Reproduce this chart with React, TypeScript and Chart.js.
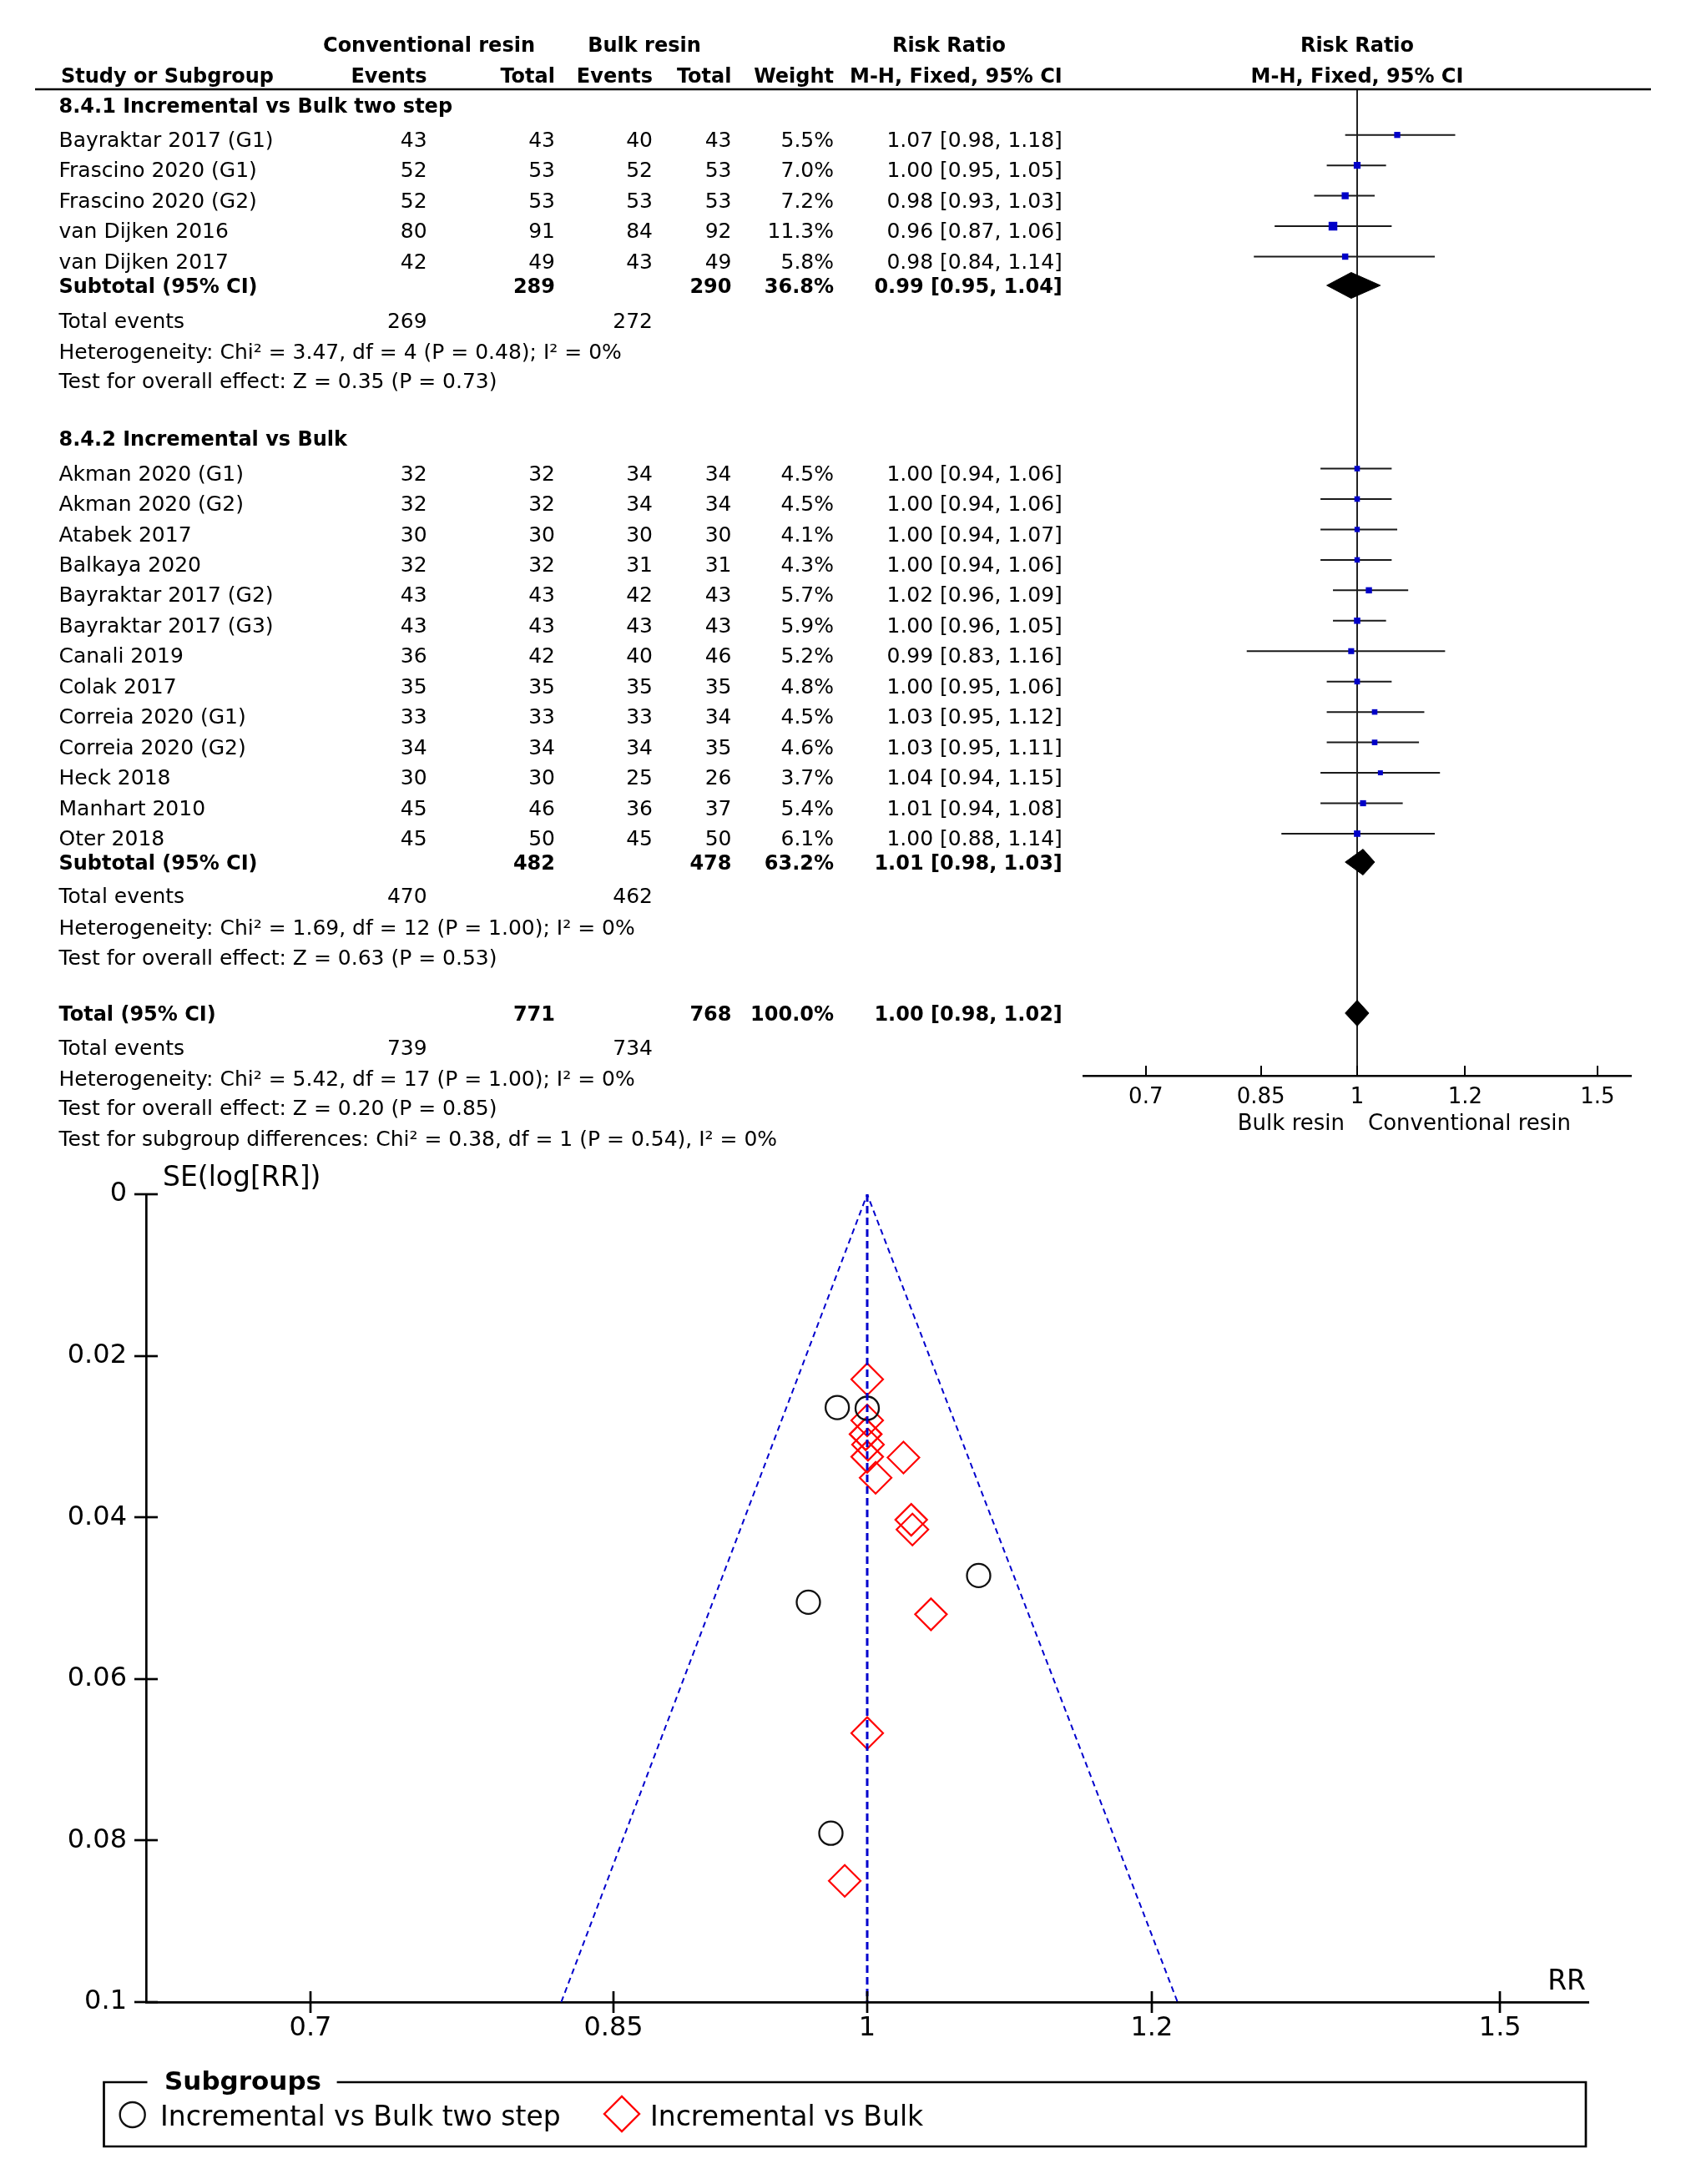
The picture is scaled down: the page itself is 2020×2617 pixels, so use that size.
import React, { useEffect, useRef } from 'react';
import { Chart, registerables } from 'chart.js';

Chart.register(...registerables);

// ---------------- Forest plot data ----------------
const group1Names = ['Bayraktar 2017 (G1)', 'Frascino 2020 (G1)', 'Frascino 2020 (G2)', 'van Dijken 2016', 'van Dijken 2017'];
const group1ConvEvents = [43, 52, 52, 80, 42];
const group1ConvTotal = [43, 53, 53, 91, 49];
const group1BulkEvents = [40, 52, 53, 84, 43];
const group1BulkTotal = [43, 53, 53, 92, 49];
const group1Weight = [5.5, 7.0, 7.2, 11.3, 5.8];
const group1RR = [1.07, 1.0, 0.98, 0.96, 0.98];
const group1Lo = [0.98, 0.95, 0.93, 0.87, 0.84];
const group1Hi = [1.18, 1.05, 1.03, 1.06, 1.14];

const group2Names = ['Akman 2020 (G1)', 'Akman 2020 (G2)', 'Atabek 2017', 'Balkaya 2020', 'Bayraktar 2017 (G2)', 'Bayraktar 2017 (G3)', 'Canali 2019', 'Colak 2017', 'Correia 2020 (G1)', 'Correia 2020 (G2)', 'Heck 2018', 'Manhart 2010', 'Oter 2018'];
const group2ConvEvents = [32, 32, 30, 32, 43, 43, 36, 35, 33, 34, 30, 45, 45];
const group2ConvTotal = [32, 32, 30, 32, 43, 43, 42, 35, 33, 34, 30, 46, 50];
const group2BulkEvents = [34, 34, 30, 31, 42, 43, 40, 35, 33, 34, 25, 36, 45];
const group2BulkTotal = [34, 34, 30, 31, 43, 43, 46, 35, 34, 35, 26, 37, 50];
const group2Weight = [4.5, 4.5, 4.1, 4.3, 5.7, 5.9, 5.2, 4.8, 4.5, 4.6, 3.7, 5.4, 6.1];
const group2RR = [1.0, 1.0, 1.0, 1.0, 1.02, 1.0, 0.99, 1.0, 1.03, 1.03, 1.04, 1.01, 1.0];
const group2Lo = [0.94, 0.94, 0.94, 0.94, 0.96, 0.96, 0.83, 0.95, 0.95, 0.95, 0.94, 0.94, 0.88];
const group2Hi = [1.06, 1.06, 1.07, 1.06, 1.09, 1.05, 1.16, 1.06, 1.12, 1.11, 1.15, 1.08, 1.14];

// subtotal / total rows: [convTotal, bulkTotal, weight, rr, lo, hi, convEvents, bulkEvents]
const subtotal1 = [289, 290, 36.8, 0.99, 0.95, 1.04, 269, 272];
const subtotal2 = [482, 478, 63.2, 1.01, 0.98, 1.03, 470, 462];
const overall = [771, 768, 100.0, 1.0, 0.98, 1.02, 739, 734];
const group1Stats = ['Heterogeneity: Chi² = 3.47, df = 4 (P = 0.48); I² = 0%', 'Test for overall effect: Z = 0.35 (P = 0.73)'];
const group2Stats = ['Heterogeneity: Chi² = 1.69, df = 12 (P = 1.00); I² = 0%', 'Test for overall effect: Z = 0.63 (P = 0.53)'];
const overallStats = ['Heterogeneity: Chi² = 5.42, df = 17 (P = 1.00); I² = 0%', 'Test for overall effect: Z = 0.20 (P = 0.85)', 'Test for subgroup differences: Chi² = 0.38, df = 1 (P = 0.54), I² = 0%'];
const rrTicks = [0.7, 0.85, 1, 1.2, 1.5];

// ---------------- Funnel plot data ----------------
const funnel1RR = [1.074, 1.0, 0.981, 0.963, 0.977];
const funnel1SE = [0.0472, 0.0265, 0.0264, 0.0505, 0.0791];
const funnel2RR = [0.999, 0.999, 1.0, 1.0005, 1.0235, 1.0, 0.9857, 1.0, 1.0294, 1.0286, 1.0417, 1.0054, 1.0];
const funnel2SE = [0.0297, 0.0297, 0.0325, 0.031, 0.0326, 0.0229, 0.085, 0.028, 0.0415, 0.0403, 0.052, 0.0351, 0.0667];
const pooledRR = 1.0;
const funnelLimitLo = 0.822;
const funnelLimitHi = 1.22;
const seMax = 0.1;
const seTicks = [0, 0.02, 0.04, 0.06, 0.08, 0.1];

// ---------------- Layout ----------------
const W = 2020;
const FOREST_H = 1385;
const F_LEFT = 1298, F_RIGHT = 1954, F_TOP = 107, F_BOTTOM = 1289;
const SLOT_PX = 36.45;
const Y_MAX = (F_BOTTOM - F_TOP) / SLOT_PX;
const SLOT = {
  head1: -1.473, head2: -0.466,
  g1Title: 0.52, g1First: 1.5, g1Sub: 6.447, g1Events: 7.6, g1Het: 8.6, g1Test: 9.575,
  g2Title: 11.468, g2First: 12.47, g2Sub: 25.405, g2Events: 26.51, g2Het: 27.54, g2Test: 28.52,
  total: 30.37, totEvents: 31.5, totHet: 32.5, totTest: 33.48, subgroup: 34.49,
};
const COL = { name: 70.5, ce: 511.6, ct: 665, be: 782, bt: 876.5, w: 999, ci: 1272.8 };
const FONT = '"DejaVu Sans"';
const LOGMIN = 0.63, LOGMAX = 1.5873;

const FUNNEL_TOP = 1385;
const FUNNEL_H = 2617 - FUNNEL_TOP;
const P_LEFT = 175, P_RIGHT = 1903, P_TOP = 1431, P_BOTTOM = 2399;

const BLUE_SQ = '#0000c8';
const FUNNEL_BLUE = '#0000cd';

const ciText = (rr: number, lo: number, hi: number) => `${rr.toFixed(2)} [${lo.toFixed(2)}, ${hi.toFixed(2)}]`;

const fixLogTicks = (s: any) => {
  s.ticks = rrTicks.map((v) => ({ value: v }));
  s.min = LOGMIN;
  s.max = LOGMAX;
};

function forestConfig(): any {
  const datasets: any[] = [];
  // line of no effect
  datasets.push({
    type: 'line', data: [{ x: 1, y: 0 }, { x: 1, y: Y_MAX }],
    borderColor: '#222', borderWidth: 2, pointRadius: 0, fill: false, order: 3,
  });
  const studyRows: any[] = [];
  group1RR.forEach((rr, i) => studyRows.push({ rr, lo: group1Lo[i], hi: group1Hi[i], w: group1Weight[i], slot: SLOT.g1First + i }));
  group2RR.forEach((rr, i) => studyRows.push({ rr, lo: group2Lo[i], hi: group2Hi[i], w: group2Weight[i], slot: SLOT.g2First + i }));
  studyRows.forEach((r) => {
    datasets.push({
      type: 'line', data: [{ x: r.lo, y: r.slot }, { x: r.hi, y: r.slot }],
      borderColor: '#1a1a1a', borderWidth: 2, pointRadius: 0, fill: false, order: 2,
    });
  });
  datasets.push({
    type: 'scatter', data: studyRows.map((r) => ({ x: r.rr, y: r.slot })),
    pointStyle: 'rect', pointRadius: studyRows.map((r) => 2.2 * Math.sqrt(r.w)),
    backgroundColor: BLUE_SQ, borderColor: BLUE_SQ, borderWidth: 0, order: 1,
  });
  const DH = 15.5 / SLOT_PX;
  const diamonds = [
    { s: subtotal1, slot: SLOT.g1Sub },
    { s: subtotal2, slot: SLOT.g2Sub },
    { s: overall, slot: SLOT.total },
  ];
  diamonds.forEach((d) => {
    const est = d.s[3], lo = d.s[4], hi = d.s[5];
    datasets.push({
      type: 'line',
      data: [{ x: lo, y: d.slot }, { x: est, y: d.slot - DH }, { x: hi, y: d.slot }, { x: est, y: d.slot + DH }, { x: lo, y: d.slot }],
      borderColor: '#000', backgroundColor: '#000', borderWidth: 1, pointRadius: 0, fill: 'shape', tension: 0, order: 0,
    });
  });

  const textPlugin = {
    id: 'forestText',
    afterDraw(chart: any) {
      const ctx = chart.ctx;
      const ys = chart.scales.y, xs = chart.scales.x;
      const Y = (s: number) => ys.getPixelForValue(s);
      const xOne = xs.getPixelForValue(1);
      const axisY = chart.chartArea.bottom;
      ctx.save();
      ctx.fillStyle = '#000';
      ctx.textBaseline = 'alphabetic';
      const txt = (t: string, x: number, cy: number, align: string, bold = false) => {
        ctx.font = bold ? `bold 24px ${FONT}` : `25px ${FONT}`;
        ctx.textAlign = align;
        ctx.fillText(t, x, cy + (bold ? 8.8 : 9.1));
      };
      // header rule
      ctx.strokeStyle = '#000';
      ctx.lineWidth = 2.5;
      ctx.beginPath();
      ctx.moveTo(42, Y(0));
      ctx.lineTo(1978, Y(0));
      ctx.stroke();
      // ticks upward
      ctx.lineWidth = 2;
      rrTicks.forEach((v) => {
        const x = Math.round(xs.getPixelForValue(v));
        ctx.beginPath();
        ctx.moveTo(x, axisY - 12);
        ctx.lineTo(x, axisY);
        ctx.stroke();
      });
      // headers
      txt('Conventional resin', 514, Y(SLOT.head1), 'center', true);
      txt('Bulk resin', 772, Y(SLOT.head1), 'center', true);
      txt('Risk Ratio', 1137, Y(SLOT.head1), 'center', true);
      txt('Risk Ratio', xOne, Y(SLOT.head1), 'center', true);
      txt('Study or Subgroup', 73, Y(SLOT.head2), 'left', true);
      txt('Events', COL.ce, Y(SLOT.head2), 'right', true);
      txt('Total', COL.ct, Y(SLOT.head2), 'right', true);
      txt('Events', COL.be, Y(SLOT.head2), 'right', true);
      txt('Total', COL.bt, Y(SLOT.head2), 'right', true);
      txt('Weight', COL.w, Y(SLOT.head2), 'right', true);
      txt('M-H, Fixed, 95% CI', COL.ci, Y(SLOT.head2), 'right', true);
      txt('M-H, Fixed, 95% CI', xOne, Y(SLOT.head2), 'center', true);

      const studyBlock = (names: string[], ce: number[], ct: number[], be: number[], bt: number[], w: number[], rr: number[], lo: number[], hi: number[], first: number) => {
        names.forEach((n, i) => {
          const cy = Y(first + i) + 5;
          txt(n, COL.name, cy, 'left');
          txt(String(ce[i]), COL.ce, cy, 'right');
          txt(String(ct[i]), COL.ct, cy, 'right');
          txt(String(be[i]), COL.be, cy, 'right');
          txt(String(bt[i]), COL.bt, cy, 'right');
          txt(`${w[i].toFixed(1)}%`, COL.w, cy, 'right');
          txt(ciText(rr[i], lo[i], hi[i]), COL.ci, cy, 'right');
        });
      };
      const summary = (label: string, s: number[], slot: number) => {
        const cy = Y(slot);
        txt(label, COL.name, cy, 'left', true);
        txt(String(s[0]), COL.ct, cy, 'right', true);
        txt(String(s[1]), COL.bt, cy, 'right', true);
        txt(`${s[2].toFixed(1)}%`, COL.w, cy, 'right', true);
        txt(ciText(s[3], s[4], s[5]), COL.ci, cy, 'right', true);
      };
      const events = (s: number[], slot: number) => {
        const cy = Y(slot);
        txt('Total events', COL.name, cy, 'left');
        txt(String(s[6]), COL.ce, cy, 'right');
        txt(String(s[7]), COL.be, cy, 'right');
      };

      txt('8.4.1 Incremental vs Bulk two step', COL.name, Y(SLOT.g1Title), 'left', true);
      studyBlock(group1Names, group1ConvEvents, group1ConvTotal, group1BulkEvents, group1BulkTotal, group1Weight, group1RR, group1Lo, group1Hi, SLOT.g1First);
      summary('Subtotal (95% CI)', subtotal1, SLOT.g1Sub);
      events(subtotal1, SLOT.g1Events);
      txt(group1Stats[0], COL.name, Y(SLOT.g1Het), 'left');
      txt(group1Stats[1], COL.name, Y(SLOT.g1Test), 'left');

      txt('8.4.2 Incremental vs Bulk', COL.name, Y(SLOT.g2Title), 'left', true);
      studyBlock(group2Names, group2ConvEvents, group2ConvTotal, group2BulkEvents, group2BulkTotal, group2Weight, group2RR, group2Lo, group2Hi, SLOT.g2First);
      summary('Subtotal (95% CI)', subtotal2, SLOT.g2Sub);
      events(subtotal2, SLOT.g2Events);
      txt(group2Stats[0], COL.name, Y(SLOT.g2Het), 'left');
      txt(group2Stats[1], COL.name, Y(SLOT.g2Test), 'left');

      summary('Total (95% CI)', overall, SLOT.total);
      events(overall, SLOT.totEvents);
      txt(overallStats[0], COL.name, Y(SLOT.totHet), 'left');
      txt(overallStats[1], COL.name, Y(SLOT.totTest), 'left');
      txt(overallStats[2], COL.name, Y(SLOT.subgroup), 'left');

      // favours labels
      ctx.font = `26px ${FONT}`;
      ctx.textAlign = 'right';
      ctx.fillText('Bulk resin', xOne - 15, axisY + 64.5);
      ctx.textAlign = 'left';
      ctx.fillText('Conventional resin', xOne + 13, axisY + 64.5);
      ctx.restore();
    },
  };

  return {
    type: 'scatter',
    data: { datasets },
    options: {
      responsive: false,
      animation: false,
      devicePixelRatio: 1,
      events: [],
      layout: { padding: { left: F_LEFT, right: W - F_RIGHT, top: F_TOP, bottom: FOREST_H - F_BOTTOM - 60 } },
      plugins: { legend: { display: false }, tooltip: { enabled: false } },
      scales: {
        x: {
          type: 'logarithmic', min: LOGMIN, max: LOGMAX, bounds: 'data', position: 'bottom',
          afterBuildTicks: fixLogTicks,
          afterFit: (s: any) => { s.height = 60; },
          ticks: { callback: (v: any) => String(v), font: { family: 'DejaVu Sans', size: 26 }, color: '#000', padding: 11, autoSkip: false, maxRotation: 0 },
          grid: { display: false, drawTicks: false },
          border: { display: true, color: '#000', width: 2.5 },
        },
        y: { type: 'linear', reverse: true, min: 0, max: Y_MAX, display: false },
      },
    },
    plugins: [textPlugin],
  };
}

function funnelConfig(): any {
  const datasets: any[] = [
    {
      type: 'line', data: [{ x: pooledRR, y: 0 }, { x: pooledRR, y: seMax }],
      borderColor: FUNNEL_BLUE, borderWidth: 3, borderDash: [9, 5], pointRadius: 0, fill: false, order: 0,
    },
    {
      type: 'line', data: [{ x: funnelLimitLo, y: seMax }, { x: pooledRR, y: 0 }, { x: funnelLimitHi, y: seMax }],
      borderColor: FUNNEL_BLUE, borderWidth: 2, borderDash: [7, 5], pointRadius: 0, fill: false, order: 0,
    },
    {
      type: 'scatter', data: funnel1RR.map((x, i) => ({ x, y: funnel1SE[i] })),
      pointStyle: 'circle', pointRadius: 14, borderColor: '#111', borderWidth: 2.3, backgroundColor: 'rgba(0,0,0,0)', order: 1,
    },
    {
      type: 'scatter', data: funnel2RR.map((x, i) => ({ x, y: funnel2SE[i] })),
      pointStyle: 'rectRot', pointRadius: 19, borderColor: '#ff0000', borderWidth: 2.2, backgroundColor: 'rgba(0,0,0,0)', order: 1,
    },
  ];

  const decor = {
    id: 'funnelDecor',
    afterDraw(chart: any) {
      const ctx = chart.ctx;
      const ca = chart.chartArea;
      const xs = chart.scales.x, ys = chart.scales.y;
      ctx.save();
      ctx.strokeStyle = '#000';
      ctx.fillStyle = '#000';
      ctx.lineWidth = 2.7;
      seTicks.forEach((v) => {
        const y = Math.round(ys.getPixelForValue(v));
        ctx.beginPath();
        ctx.moveTo(ca.left - 14, y);
        ctx.lineTo(ca.left + 14, y);
        ctx.stroke();
      });
      rrTicks.forEach((v) => {
        const x = Math.round(xs.getPixelForValue(v));
        ctx.beginPath();
        ctx.moveTo(x, ca.bottom - 13);
        ctx.lineTo(x, ca.bottom + 13);
        ctx.stroke();
      });
      ctx.font = `33px ${FONT}`;
      ctx.textBaseline = 'alphabetic';
      ctx.textAlign = 'left';
      ctx.fillText('SE(log[RR])', ca.left + 20, ca.top - 10);
      ctx.textAlign = 'right';
      ctx.fillText('RR', ca.right - 3, ca.bottom - 15);

      // legend box
      const T = FUNNEL_TOP;
      const top = 2495 - T, bot = 2572 - T, left = 124.5, right = 1900;
      ctx.lineWidth = 2.7;
      ctx.beginPath();
      ctx.moveTo(176.5, top);
      ctx.lineTo(left, top);
      ctx.lineTo(left, bot);
      ctx.lineTo(right, bot);
      ctx.lineTo(right, top);
      ctx.lineTo(403.6, top);
      ctx.stroke();
      ctx.textAlign = 'left';
      ctx.font = `bold 31px ${FONT}`;
      ctx.fillText('Subgroups', 197, 2504 - T);
      // circle marker
      ctx.lineWidth = 2.4;
      ctx.strokeStyle = '#111';
      ctx.beginPath();
      ctx.arc(158.7, 2534 - T, 15, 0, Math.PI * 2);
      ctx.stroke();
      ctx.font = `33px ${FONT}`;
      ctx.fillText('Incremental vs Bulk two step', 192, 2547 - T);
      // diamond marker
      const dx = 745, dy = 2533 - T, r = 21;
      ctx.strokeStyle = '#ff0000';
      ctx.beginPath();
      ctx.moveTo(dx - r, dy);
      ctx.lineTo(dx, dy - r);
      ctx.lineTo(dx + r, dy);
      ctx.lineTo(dx, dy + r);
      ctx.closePath();
      ctx.stroke();
      ctx.fillText('Incremental vs Bulk', 779, 2547 - T);
      ctx.restore();
    },
  };

  const fmt = (v: number) => Number(v).toFixed(2).replace(/0+$/, '').replace(/\.$/, '');

  return {
    type: 'scatter',
    data: { datasets },
    options: {
      responsive: false,
      animation: false,
      devicePixelRatio: 1,
      events: [],
      layout: { padding: { left: 0, right: W - P_RIGHT, top: P_TOP - FUNNEL_TOP, bottom: FUNNEL_H - (P_BOTTOM - FUNNEL_TOP) - 70 } },
      plugins: { legend: { display: false }, tooltip: { enabled: false } },
      scales: {
        x: {
          type: 'logarithmic', min: LOGMIN, max: LOGMAX, bounds: 'data', position: 'bottom',
          afterBuildTicks: fixLogTicks,
          afterFit: (s: any) => { s.height = 70; },
          ticks: { callback: (v: any) => String(v), font: { family: 'DejaVu Sans', size: 32 }, color: '#000', padding: 12, autoSkip: false, maxRotation: 0 },
          grid: { display: false, drawTicks: false },
          border: { display: true, color: '#000', width: 2.7 },
        },
        y: {
          type: 'linear', reverse: true, min: 0, max: seMax, position: 'left',
          afterBuildTicks: (s: any) => { s.ticks = seTicks.map((v) => ({ value: v })); },
          afterFit: (s: any) => { s.width = P_LEFT; },
          ticks: { callback: (v: any) => fmt(v), font: { family: 'DejaVu Sans', size: 32 }, color: '#000', padding: 23, autoSkip: false },
          grid: { display: false, drawTicks: false },
          border: { display: true, color: '#000', width: 2.7 },
        },
      },
    },
    plugins: [decor],
  };
}

export default function App() {
  const forestRef = useRef<HTMLCanvasElement>(null);
  const funnelRef = useRef<HTMLCanvasElement>(null);
  useEffect(() => {
    document.body.style.margin = '0';
    const c1 = new Chart(forestRef.current as HTMLCanvasElement, forestConfig());
    const c2 = new Chart(funnelRef.current as HTMLCanvasElement, funnelConfig());
    return () => {
      c1.destroy();
      c2.destroy();
    };
  }, []);
  return (
    <div style={{ position: 'relative', width: W, height: 2617, background: '#fff', overflow: 'hidden' }}>
      <canvas ref={forestRef} width={W} height={FOREST_H} style={{ position: 'absolute', left: 0, top: 0, width: W, height: FOREST_H }} />
      <canvas ref={funnelRef} width={W} height={FUNNEL_H} style={{ position: 'absolute', left: 0, top: FUNNEL_TOP, width: W, height: FUNNEL_H }} />
    </div>
  );
}
